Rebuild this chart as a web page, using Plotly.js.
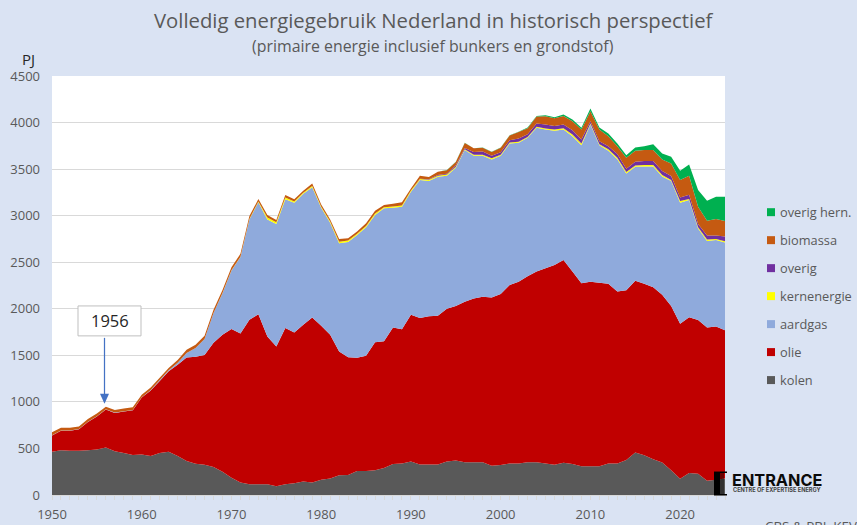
<!DOCTYPE html>
<html><head><meta charset="utf-8">
<script src="https://cdn.plot.ly/plotly-3.0.1.min.js"></script>
<style>html,body{margin:0;padding:0;background:#DAE3F3;overflow:hidden}#c{width:857px;height:525px}</style>
</head><body><div id="c"></div>
<script>
const years = [1950,1951,1952,1953,1954,1955,1956,1957,1958,1959,1960,1961,1962,1963,1964,1965,1966,1967,1968,1969,1970,1971,1972,1973,1974,1975,1976,1977,1978,1979,1980,1981,1982,1983,1984,1985,1986,1987,1988,1989,1990,1991,1992,1993,1994,1995,1996,1997,1998,1999,2000,2001,2002,2003,2004,2005,2006,2007,2008,2009,2010,2011,2012,2013,2014,2015,2016,2017,2018,2019,2020,2021,2022,2023,2024,2025];
const kolen = [465,480,475,475,480,490,510,470,450,430, 435,420,450,465,420,365,335,325,300,250, 185,135,115,115,115,95,115,125,145,135, 164,178,211,214,258,258,267,291,333,338, 361,328,328,328,361,371,352,352,352,314, 321,338,338,352,352,338,324,347,333,310, 310,310,338,338,375,457,428,385,350,267, 175,236,228,153,164,178];
const olie = [175,210,215,230,305,353,408,412,446,480, 611,701,775,863,980,1113,1150,1178,1335,1470, 1597,1600,1767,1825,1588,1501,1678,1621,1683,1772, 1654,1542,1329,1266,1217,1237,1373,1359,1467,1442, 1574,1572,1592,1597,1639,1659,1723,1758,1778,1806, 1839,1917,1952,1998,2048,2097,2146,2178,2067,1965, 1980,1970,1932,1847,1825,1843,1842,1845,1800,1763, 1665,1674,1652,1647,1646,1592];
const aardgas = [3,3,3,3,3,3,3,4,4,4, 5,8,10,12,20,47,95,172,320,448, 628,820,1078,1205,1257,1314,1382,1394,1407,1397, 1267,1205,1164,1238,1318,1380,1367,1429,1286,1316, 1322,1482,1451,1493,1429,1484,1629,1533,1513,1484, 1483,1520,1492,1486,1543,1490,1441,1400,1454,1482, 1689,1477,1426,1422,1254,1225,1259,1299,1271,1341, 1299,1258,981,929,929,941];
const kernenergie = [0,0,0,0,0,0,0,0,0,0, 0,0,0,0,0,0,0,0,0,2, 4,4,4,8,20,18,20,12,10,14, 12,12,15,14,14,14,15,12,12,12, 12,12,14,12,12,12,10,10,10,12, 12,11,11,10,11,11,14,14,17,18, 10,11,18,14,14,14,14,14,15,11, 18,11,14,14,11,14];
const overig = [0,0,0,0,0,0,0,0,0,0, 0,0,0,0,0,0,0,0,0,0, 0,0,0,0,0,0,0,0,0,0, 0,0,0,0,0,0,0,0,0,0, 0,2,5,8,10,15,12,30,35,28, 27,25,36,29,35,43,39,40,47,43, 25,32,32,40,36,40,43,43,43,43, 39,46,36,43,36,50];
const biomassa = [30,28,28,28,28,28,28,28,28,28, 25,25,25,25,30,35,35,35,35,33, 32,31,32,25,27,25,26,23,23,28, 23,23,31,25,22,29,32,23,31,35, 24,33,24,33,38,35,54,40,42,40, 47,50,70,64,75,89,82,92,96,107, 107,125,108,85,117,117,118,118,125,136, 186,204,185,160,178,168];
const overigHern = [0,0,0,0,0,0,0,0,0,0, 0,0,0,0,0,0,0,0,0,0, 0,0,0,0,0,0,0,0,0,0, 0,0,0,0,0,0,0,0,0,0, 0,0,0,1,1,3,2,2,2,2, 3,3,1,7,7,11,11,15,18,18, 29,21,28,29,29,36,42,64,64,71, 100,121,179,215,240,261];

const legendLabels = ["overig hern.","biomassa","overig","kernenergie","aardgas","olie","kolen"];
const legendColors = ["#00B050","#C55A11","#7030A0","#FFFF00","#8FAADC","#C00000","#595959"];
const seriesValues = [overigHern,biomassa,overig,kernenergie,aardgas,olie,kolen];
const xTicks = [1950,1960,1970,1980,1990,2000,2010,2020];
const yTicks = [0,500,1000,1500,2000,2500,3000,3500,4000,4500];

const FONT = '"Open Sans","Noto Sans",sans-serif';
const traces = [];
for (let i = seriesValues.length-1; i >= 0; i--) {
  traces.push({x:years,y:seriesValues[i],name:legendLabels[i],type:'scatter',mode:'none',
    stackgroup:'one',fillcolor:legendColors[i],hoverinfo:'x+y+name'});
}

const W=857,H=525,L=52,R=725,T=75.5,B=495.5;
const px=v=>(v-L)/(R-L), py=v=>(B-v)/(B-T);
const annotations=[
 {text:'Volledig energiegebruik Nederland in historisch perspectief',x:px(433.5),y:py(19.5),font:{size:20.3,color:'#595959',family:FONT}},
 {text:'(primaire energie inclusief bunkers en grondstof)',x:px(433),y:py(45.5),font:{size:15.9,color:'#595959',family:FONT}},
 {text:'PJ',x:px(28),y:py(58.5),font:{size:15,color:'#262626',family:FONT}},
 {text:'1956',x:px(109.5),y:py(321),font:{size:16.5,color:'#262626',family:FONT}},
 {text:'<b>ENTRANCE</b>',x:px(777),y:py(480),font:{size:16.3,color:'#0a0a0a',family:'"Inter","Liberation Sans",sans-serif'}},
 {text:'<b>CENTRE OF EXPERTISE ENERGY</b>',x:px(777),y:py(490.5),font:{size:5.6,color:'#444444',family:'"Inter","Liberation Sans",sans-serif'}},
 {text:'CBS &amp; PBL KEV',x:px(810.5),y:py(527),font:{size:13.4,color:'#595959',family:FONT}}
].map(a=>Object.assign({xref:'paper',yref:'paper',showarrow:false,xanchor:'center',yanchor:'middle'},a));

const shapes=[
 {type:'rect',xref:'paper',yref:'paper',x0:px(78),x1:px(141),y0:py(306),y1:py(336),fillcolor:'#FFFFFF',line:{color:'#BFBFBF',width:1}},
 {type:'line',xref:'paper',yref:'paper',x0:px(104.5),x1:px(104.5),y0:py(338),y1:py(396),line:{color:'#4472C4',width:1.25}},
 {type:'path',xref:'paper',yref:'paper',path:`M ${px(100)} ${py(394)} L ${px(109)} ${py(394)} L ${px(104.5)} ${py(404)} Z`,fillcolor:'#4472C4',line:{width:0}},
 {type:'rect',xref:'paper',yref:'paper',x0:px(720),x1:px(724),y0:py(473),y1:py(495),fillcolor:'rgba(0,0,0,0.45)',line:{width:0}},
 {type:'rect',xref:'paper',yref:'paper',x0:px(714),x1:px(720),y0:py(472),y1:py(496),fillcolor:'#000000',line:{width:0}},
 {type:'path',xref:'paper',yref:'paper',path:`M ${px(720)} ${py(472)} L ${px(727)} ${py(472)} L ${px(727)} ${py(473.5)} L ${px(720)} ${py(473.5)} Z M ${px(720)} ${py(494.5)} L ${px(727)} ${py(494.5)} L ${px(727)} ${py(496)} L ${px(720)} ${py(496)} Z`,fillcolor:'#000000',line:{width:0}}
];
legendLabels.forEach((t,i)=>{
  const cy=212+i*28.05;
  shapes.push({type:'rect',xref:'paper',yref:'paper',x0:px(767),x1:px(775),y0:py(cy-4),y1:py(cy+4),fillcolor:legendColors[i],line:{width:0}});
  annotations.push({text:t,xref:'paper',yref:'paper',x:px(778),y:py(cy),xanchor:'left',yanchor:'middle',showarrow:false,font:{size:12.8,color:'#595959',family:FONT}});
});

const layout={
 width:W,height:H,paper_bgcolor:'#DAE3F3',plot_bgcolor:'#FFFFFF',showlegend:false,
 margin:{l:L,r:W-R,t:T,b:H-B,pad:0},
 font:{family:FONT,color:'#595959'},
 xaxis:{range:[1950,2025],tickvals:xTicks,ticktext:xTicks.map(String),ticks:'',showgrid:false,zeroline:false,
   showline:true,linecolor:'#D9D9D9',linewidth:1,tickfont:{size:13,color:'#595959',family:FONT},ticklabelstandoff:7,
   minor:{dtick:1,ticks:'outside',ticklen:4,tickcolor:'#D9D9D9',tickwidth:1,showgrid:false},automargin:false},
 yaxis:{range:[0,4500],tickvals:yTicks,ticktext:yTicks.map(String),showgrid:true,gridcolor:'#D9D9D9',gridwidth:1,
   zeroline:false,showline:false,ticks:'',tickfont:{size:13,color:'#595959',family:FONT},ticklabelstandoff:11,automargin:false},
 annotations,shapes
};
Plotly.newPlot('c',traces,layout,{displayModeBar:false,staticPlot:true});
</script></body></html>
